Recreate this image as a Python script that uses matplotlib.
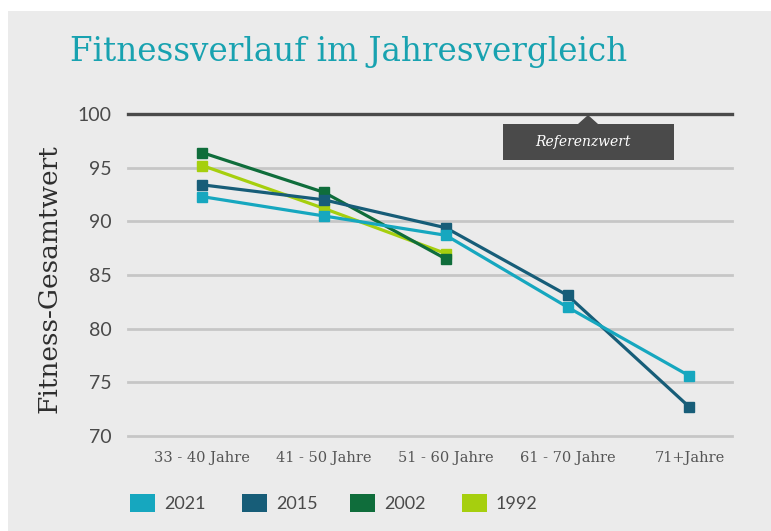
import matplotlib
matplotlib.use("Agg")
import matplotlib.pyplot as plt
from matplotlib.patches import Rectangle, Polygon
import numpy as np

# data
age_groups = ["33 - 40 Jahre", "41 - 50 Jahre", "51 - 60 Jahre", "61 - 70 Jahre", "71+Jahre"]
years = ["2021", "2015", "2002", "1992"]
vals_2021 = [92.3, 90.5, 88.7, 82.0, 75.6]
vals_2015 = [93.4, 92.0, 89.4, 83.1, 72.7]
vals_2002 = [96.4, 92.7, 86.5]
vals_1992 = [95.2, 91.2, 87.0]
y_ticks = [70, 75, 80, 85, 90, 95, 100]

colors = ["#16a7bf", "#175d78", "#0f6d3b", "#a6cf0e"]
series = [vals_2021, vals_2015, vals_2002, vals_1992]

W, H = 771, 531
fig = plt.figure(figsize=(W / 100, H / 100), dpi=100)
fig.patch.set_facecolor("white")

# gray panel behind everything
fig.add_artist(Rectangle((8 / W, 0), 1 - 8 / W, 1 - 11 / H, transform=fig.transFigure,
                         facecolor="#ebebeb", edgecolor="none", zorder=0))

ax = fig.add_axes([128 / W, 1 - 436 / H, (732 - 128) / W, (436 - 114) / H])
ax.set_facecolor("none")
ax.set_xlim(-0.61, 4.35)
ax.set_ylim(70, 100)

for yv in y_ticks[:-1]:
    ax.axhline(yv, color="#c6c6c6", lw=2, zorder=1, clip_on=False)
ax.axhline(100, color="#4a4a4a", lw=2.4, zorder=1, clip_on=False)

x = np.arange(len(age_groups))
# draw older series first so 2021 sits on top
for i in [3, 2, 1, 0]:
    v = series[i]
    ax.plot(x[:len(v)], v, color=colors[i], lw=2.3, marker="s", ms=6.5,
            zorder=3 + (3 - i), clip_on=False)

for s in ax.spines.values():
    s.set_visible(False)
ax.tick_params(length=0)
ax.set_yticks(y_ticks)
ax.set_yticklabels([str(t) for t in y_ticks], fontsize=14, color="#4a4a4a", family="Lato")
ax.tick_params(axis="y", pad=12)
ax.set_xticks(x)
ax.set_xticklabels(age_groups, fontsize=10.5, color="#555555", family="DejaVu Serif")
ax.tick_params(axis="x", pad=11)

ax.set_ylabel("Fitness-Gesamtwert", fontsize=19, color="#2e2e2e", family="DejaVu Serif")
ax.yaxis.set_label_coords(-0.11, 0.49)

fig.text(70 / W, 1 - 52 / H, "Fitnessverlauf im Jahresvergleich", fontsize=23.5,
         color="#18a2b0", family="DejaVu Serif", va="center", ha="left")

# Referenzwert callout
bx0, bx1, by0, by1 = 503, 674, 124, 160
fig.add_artist(Rectangle((bx0 / W, 1 - by1 / H), (bx1 - bx0) / W, (by1 - by0) / H,
                         transform=fig.transFigure, facecolor="#4a4a4a", edgecolor="none", zorder=5))
fig.add_artist(Polygon([((588 - 10) / W, 1 - by0 / H), (588 / W, 1 - 115 / H), ((588 + 10) / W, 1 - by0 / H)],
                       closed=True, transform=fig.transFigure, facecolor="#4a4a4a", edgecolor="none", zorder=5))
fig.text(583 / W, 1 - 142 / H, "Referenzwert", fontsize=10, color="white", style="italic",
         family="DejaVu Serif", ha="center", va="center", zorder=6)

# legend
leg_x = [130, 242, 350, 462]
for i, yr in enumerate(years):
    fig.add_artist(Rectangle((leg_x[i] / W, 1 - 512 / H), 25 / W, 18 / H, transform=fig.transFigure,
                             facecolor=colors[i], edgecolor="none"))
    fig.text((leg_x[i] + 34) / W, 1 - 504 / H, yr, fontsize=13, color="#4a4a4a", family="Lato",
             va="center", ha="left")

fig.savefig("out.png", dpi=100, facecolor="white")
